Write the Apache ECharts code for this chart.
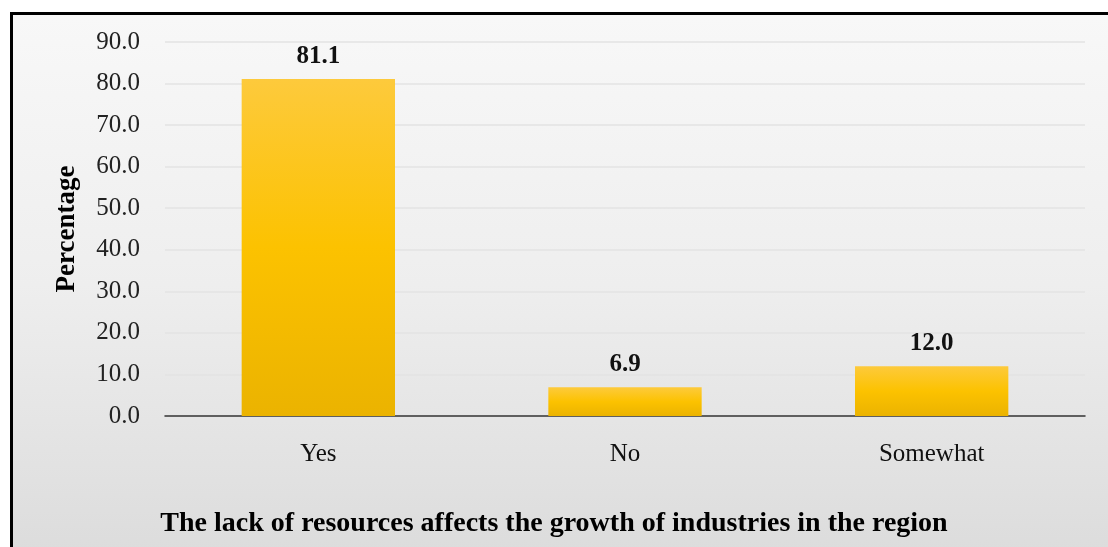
<!DOCTYPE html>
<html>
<head>
<meta charset="utf-8">
<script src="https://cdn.jsdelivr.net/npm/echarts@6/dist/echarts.min.js"></script>
<style>
  html, body { margin: 0; padding: 0; background: #fff; }
  #frame {
    position: absolute; left: 10px; top: 12px; width: 1100px; height: 540px;
    border-top: 3px solid #000; border-left: 3px solid #000;
    background: linear-gradient(to bottom, #f8f8f8 0%, #eeeeee 50%, #dcdcdc 100%);
  }
  #chart { position: absolute; left: 0; top: 0; width: 1108px; height: 547px; }
</style>
</head>
<body>
<div id="frame"></div>
<div id="chart"></div>
<script>
const categories = ['Yes', 'No', 'Somewhat'];
const percentages = [81.1, 6.9, 12.0];
const yTicks = { min: 0, max: 90, interval: 10 };

const serif = '"Liberation Serif", "Times New Roman", serif';
const chart = echarts.init(document.getElementById('chart'));

chart.setOption({
  backgroundColor: 'transparent',
  animation: false,
  // the axis title in the original is centred on the whole frame, not the plot
  title: {
    text: 'The lack of resources affects the growth of industries in the region',
    left: 'center',
    top: 510,
    padding: 0,
    textStyle: { fontFamily: serif, fontSize: 28, fontWeight: 'bold', color: '#000' }
  },
  grid: { left: 165, right: 23, top: 42, bottom: 131 },
  xAxis: {
    type: 'category',
    data: categories,
    axisLine: { lineStyle: { color: '#333', width: 1.5 } },
    axisTick: { show: false },
    axisLabel: { fontFamily: serif, fontSize: 25, color: '#111', margin: 26 }
  },
  yAxis: {
    type: 'value',
    min: yTicks.min,
    max: yTicks.max,
    interval: yTicks.interval,
    name: 'Percentage',
    nameLocation: 'middle',
    nameGap: 84,
    nameTextStyle: { fontFamily: serif, fontSize: 27, fontWeight: 'bold', color: '#000' },
    axisLine: { show: false },
    axisTick: { show: false },
    axisLabel: {
      fontFamily: serif, fontSize: 25, color: '#222', margin: 25,
      formatter: (v) => v.toFixed(1)
    },
    splitLine: { lineStyle: { color: '#e3e3e3', width: 1.5 } }
  },
  series: [{
    type: 'bar',
    data: percentages,
    barWidth: '50%',
    itemStyle: {
      color: new echarts.graphic.LinearGradient(0, 0, 0, 1, [
        { offset: 0, color: '#fdca3c' },
        { offset: 0.5, color: '#fcc200' },
        { offset: 1, color: '#ebb300' }
      ])
    },
    label: {
      show: true,
      position: 'top',
      distance: 10,
      fontFamily: serif,
      fontSize: 25,
      fontWeight: 'bold',
      color: '#111',
      formatter: (p) => p.value.toFixed(1)
    }
  }]
});
</script>
</body>
</html>
